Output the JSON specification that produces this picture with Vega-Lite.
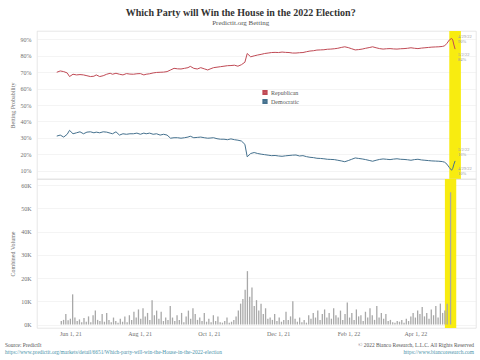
{
  "$schema": "https://vega.github.io/schema/vega-lite/v6.json",
  "background": "white",
  "padding": {"left": 5, "top": 7, "right": 4, "bottom": 0},
  "spacing": 0,
  "bounds": "flush",
  "resolve": {"scale": {"color": "independent"}, "legend": {"color": "independent"}},
  "title": {
    "text": "Which Party will Win the House in the 2022 Election?",
    "subtitle": "Predictit.org Betting",
    "font": "Liberation Serif",
    "fontSize": 10,
    "fontWeight": "bold",
    "color": "#333333",
    "subtitleFont": "Liberation Serif",
    "subtitleFontSize": 7,
    "subtitleColor": "#555555",
    "subtitlePadding": 1,
    "offset": 5,
    "anchor": "middle"
  },
  "config": {
    "font": "Liberation Serif",
    "view": {"stroke": "#dddddd", "strokeWidth": 0.7},
    "axis": {
      "labelFont": "Liberation Serif",
      "titleFont": "Liberation Serif",
      "labelFontSize": 6,
      "titleFontSize": 6,
      "labelColor": "#707070",
      "titleColor": "#707070",
      "titleFontWeight": "normal",
      "domain": false,
      "ticks": false,
      "tickSize": 0,
      "labelOverlap": false,
      "gridColor": "#ececec",
      "gridWidth": 0.6
    }
  },
  "datasets": {
    "band": [{"s": "2022-04-27", "e": "2022-05-07"}],
    "labs": [
      {"d": "2022-04-29", "p": 90, "lab": "4/29/22\n90%", "k": "rp"},
      {"d": "2022-05-02", "p": 84, "lab": "5/2/22\n84%", "k": "rl"},
      {"d": "2022-05-02", "p": 16, "lab": "5/2/22\n16%", "k": "bl"},
      {"d": "2022-04-29", "p": 10, "lab": "4/29/22\n10%", "k": "bp"}
    ],
    "foot": [
      {"side": "L", "row": 1, "t": "Source: PredictIt"},
      {"side": "L", "row": 2, "t": "https://www.predictit.org/markets/detail/6651/Which-party-will-win-the-House-in-the-2022-election"},
      {"side": "R", "row": 1, "t": "© 2022 Bianco Research, L.L.C. All Rights Reserved"},
      {"side": "R", "row": 2, "t": "https://www.biancoresearch.com"}
    ],
    "prob": [
      {"d": "2021-05-24", "Republican": 69.9, "Democratic": 31.1},
      {"d": "2021-05-27", "Republican": 70.7, "Democratic": 31.7},
      {"d": "2021-05-30", "Republican": 70.3, "Democratic": 30.5},
      {"d": "2021-06-02", "Republican": 69.5, "Democratic": 32.2},
      {"d": "2021-06-04", "Republican": 67.3, "Democratic": 34.6},
      {"d": "2021-06-07", "Republican": 68.7, "Democratic": 32.5},
      {"d": "2021-06-10", "Republican": 68.3, "Democratic": 33.1},
      {"d": "2021-06-13", "Republican": 68.5, "Democratic": 33.7},
      {"d": "2021-06-16", "Republican": 68.3, "Democratic": 32.5},
      {"d": "2021-06-19", "Republican": 67.8, "Democratic": 33.5},
      {"d": "2021-06-22", "Republican": 67.3, "Democratic": 33.7},
      {"d": "2021-06-25", "Republican": 67.5, "Democratic": 33.1},
      {"d": "2021-06-27", "Republican": 68.3, "Democratic": 33.5},
      {"d": "2021-06-30", "Republican": 67.3, "Democratic": 33.1},
      {"d": "2021-07-03", "Republican": 67.8, "Democratic": 33.7},
      {"d": "2021-07-06", "Republican": 68.7, "Democratic": 33.5},
      {"d": "2021-07-09", "Republican": 69.3, "Democratic": 32.9},
      {"d": "2021-07-11", "Republican": 68.7, "Democratic": 32.5},
      {"d": "2021-07-14", "Republican": 69.3, "Democratic": 33.7},
      {"d": "2021-07-17", "Republican": 68.7, "Democratic": 31.7},
      {"d": "2021-07-20", "Republican": 68.3, "Democratic": 32.5},
      {"d": "2021-07-23", "Republican": 69.1, "Democratic": 32.2},
      {"d": "2021-07-26", "Republican": 68.8, "Democratic": 32.5},
      {"d": "2021-07-29", "Republican": 68.7, "Democratic": 32.5},
      {"d": "2021-08-01", "Republican": 69.0, "Democratic": 32.9},
      {"d": "2021-08-04", "Republican": 69.1, "Democratic": 32.2},
      {"d": "2021-08-07", "Republican": 68.3, "Democratic": 32.9},
      {"d": "2021-08-09", "Republican": 68.7, "Democratic": 32.5},
      {"d": "2021-08-12", "Republican": 69.0, "Democratic": 32.9},
      {"d": "2021-08-15", "Republican": 69.5, "Democratic": 32.2},
      {"d": "2021-08-18", "Republican": 69.8, "Democratic": 32.5},
      {"d": "2021-08-21", "Republican": 69.9, "Democratic": 31.7},
      {"d": "2021-08-24", "Republican": 70.0, "Democratic": 32.2},
      {"d": "2021-08-27", "Republican": 70.3, "Democratic": 31.7},
      {"d": "2021-08-30", "Republican": 71.3, "Democratic": 29.8},
      {"d": "2021-09-02", "Republican": 72.3, "Democratic": 30.1},
      {"d": "2021-09-05", "Republican": 72.0, "Democratic": 30.1},
      {"d": "2021-09-08", "Republican": 71.9, "Democratic": 29.8},
      {"d": "2021-09-11", "Republican": 72.3, "Democratic": 30.1},
      {"d": "2021-09-14", "Republican": 72.7, "Democratic": 30.5},
      {"d": "2021-09-16", "Republican": 73.5, "Democratic": 31.0},
      {"d": "2021-09-19", "Republican": 72.3, "Democratic": 30.1},
      {"d": "2021-09-22", "Republican": 71.9, "Democratic": 30.3},
      {"d": "2021-09-25", "Republican": 72.7, "Democratic": 30.5},
      {"d": "2021-09-28", "Republican": 72.0, "Democratic": 30.1},
      {"d": "2021-10-01", "Republican": 71.3, "Democratic": 29.8},
      {"d": "2021-10-03", "Republican": 71.9, "Democratic": 29.9},
      {"d": "2021-10-06", "Republican": 72.7, "Democratic": 30.1},
      {"d": "2021-10-09", "Republican": 73.0, "Democratic": 29.5},
      {"d": "2021-10-12", "Republican": 73.3, "Democratic": 29.2},
      {"d": "2021-10-15", "Republican": 73.6, "Democratic": 29.2},
      {"d": "2021-10-18", "Republican": 73.9, "Democratic": 28.9},
      {"d": "2021-10-21", "Republican": 74.0, "Democratic": 29.4},
      {"d": "2021-10-24", "Republican": 74.2, "Democratic": 28.9},
      {"d": "2021-10-27", "Republican": 73.6, "Democratic": 28.6},
      {"d": "2021-10-30", "Republican": 74.5, "Democratic": 28.1},
      {"d": "2021-11-02", "Republican": 76.0, "Democratic": 26.1},
      {"d": "2021-11-04", "Republican": 81.3, "Democratic": 18.5},
      {"d": "2021-11-07", "Republican": 79.3, "Democratic": 20.5},
      {"d": "2021-11-10", "Republican": 79.9, "Democratic": 21.1},
      {"d": "2021-11-13", "Republican": 80.4, "Democratic": 20.5},
      {"d": "2021-11-16", "Republican": 80.8, "Democratic": 20.1},
      {"d": "2021-11-19", "Republican": 81.3, "Democratic": 19.8},
      {"d": "2021-11-22", "Republican": 81.6, "Democratic": 19.5},
      {"d": "2021-11-25", "Republican": 81.9, "Democratic": 19.2},
      {"d": "2021-11-28", "Republican": 82.0, "Democratic": 19.3},
      {"d": "2021-12-01", "Republican": 81.9, "Democratic": 19.0},
      {"d": "2021-12-04", "Republican": 82.2, "Democratic": 18.8},
      {"d": "2021-12-07", "Republican": 82.0, "Democratic": 19.1},
      {"d": "2021-12-10", "Republican": 81.9, "Democratic": 19.3},
      {"d": "2021-12-13", "Republican": 81.6, "Democratic": 19.5},
      {"d": "2021-12-16", "Republican": 81.6, "Democratic": 19.6},
      {"d": "2021-12-19", "Republican": 81.8, "Democratic": 19.0},
      {"d": "2021-12-22", "Republican": 81.9, "Democratic": 19.2},
      {"d": "2021-12-25", "Republican": 82.4, "Democratic": 18.6},
      {"d": "2021-12-28", "Republican": 82.8, "Democratic": 18.2},
      {"d": "2021-12-31", "Republican": 83.0, "Democratic": 18.0},
      {"d": "2022-01-03", "Republican": 83.4, "Democratic": 17.6},
      {"d": "2022-01-06", "Republican": 83.5, "Democratic": 17.5},
      {"d": "2022-01-09", "Republican": 83.6, "Democratic": 17.3},
      {"d": "2022-01-12", "Republican": 83.9, "Democratic": 17.0},
      {"d": "2022-01-15", "Republican": 84.0, "Democratic": 16.9},
      {"d": "2022-01-18", "Republican": 84.2, "Democratic": 16.8},
      {"d": "2022-01-21", "Republican": 84.5, "Democratic": 16.4},
      {"d": "2022-01-24", "Republican": 85.0, "Democratic": 16.0},
      {"d": "2022-01-27", "Republican": 85.4, "Democratic": 15.5},
      {"d": "2022-01-30", "Republican": 84.9, "Democratic": 16.2},
      {"d": "2022-02-02", "Republican": 84.2, "Democratic": 17.0},
      {"d": "2022-02-05", "Republican": 83.5, "Democratic": 17.8},
      {"d": "2022-02-08", "Republican": 83.7, "Democratic": 17.5},
      {"d": "2022-02-11", "Republican": 84.0, "Democratic": 17.2},
      {"d": "2022-02-14", "Republican": 84.5, "Democratic": 16.8},
      {"d": "2022-02-17", "Republican": 84.9, "Democratic": 16.3},
      {"d": "2022-02-20", "Republican": 85.4, "Democratic": 15.8},
      {"d": "2022-02-23", "Republican": 84.8, "Democratic": 16.4},
      {"d": "2022-02-26", "Republican": 84.3, "Democratic": 16.9},
      {"d": "2022-03-01", "Republican": 84.0, "Democratic": 17.2},
      {"d": "2022-03-04", "Republican": 84.2, "Democratic": 17.0},
      {"d": "2022-03-07", "Republican": 84.3, "Democratic": 16.8},
      {"d": "2022-03-10", "Republican": 84.1, "Democratic": 17.1},
      {"d": "2022-03-13", "Republican": 84.0, "Democratic": 17.3},
      {"d": "2022-03-16", "Republican": 84.2, "Democratic": 17.0},
      {"d": "2022-03-19", "Republican": 84.3, "Democratic": 16.9},
      {"d": "2022-03-22", "Republican": 84.5, "Democratic": 16.7},
      {"d": "2022-03-25", "Republican": 84.8, "Democratic": 16.4},
      {"d": "2022-03-28", "Republican": 84.5, "Democratic": 16.8},
      {"d": "2022-03-31", "Republican": 84.3, "Democratic": 17.0},
      {"d": "2022-04-03", "Republican": 84.6, "Democratic": 16.6},
      {"d": "2022-04-06", "Republican": 84.8, "Democratic": 16.4},
      {"d": "2022-04-09", "Republican": 85.0, "Democratic": 16.2},
      {"d": "2022-04-12", "Republican": 85.2, "Democratic": 16.0},
      {"d": "2022-04-15", "Republican": 85.3, "Democratic": 15.9},
      {"d": "2022-04-18", "Republican": 85.4, "Democratic": 15.8},
      {"d": "2022-04-21", "Republican": 85.6, "Democratic": 15.6},
      {"d": "2022-04-23", "Republican": 86.0, "Democratic": 15.2},
      {"d": "2022-04-25", "Republican": 87.5, "Democratic": 14.0},
      {"d": "2022-04-27", "Republican": 89.5, "Democratic": 12.0},
      {"d": "2022-04-29", "Republican": 90.5, "Democratic": 10.3},
      {"d": "2022-04-30", "Republican": 89.5, "Democratic": 11.5},
      {"d": "2022-05-01", "Republican": 86.5, "Democratic": 14.0},
      {"d": "2022-05-02", "Republican": 84.0, "Democratic": 16.0}
    ],
    "vol": [
      {"d": "2021-05-24", "v": 1500}, {"d": "2021-05-26", "v": 2000}, {"d": "2021-05-28", "v": 4500}, {"d": "2021-05-30", "v": 1800},
      {"d": "2021-06-01", "v": 2500}, {"d": "2021-06-03", "v": 13000}, {"d": "2021-06-05", "v": 3000}, {"d": "2021-06-07", "v": 1500},
      {"d": "2021-06-09", "v": 2200}, {"d": "2021-06-11", "v": 1000}, {"d": "2021-06-13", "v": 2800}, {"d": "2021-06-15", "v": 1200},
      {"d": "2021-06-17", "v": 3500}, {"d": "2021-06-19", "v": 1000}, {"d": "2021-06-21", "v": 4000}, {"d": "2021-06-23", "v": 6000},
      {"d": "2021-06-25", "v": 2000}, {"d": "2021-06-27", "v": 1500}, {"d": "2021-06-29", "v": 4500}, {"d": "2021-07-01", "v": 1200},
      {"d": "2021-07-03", "v": 5000}, {"d": "2021-07-05", "v": 2000}, {"d": "2021-07-07", "v": 1000}, {"d": "2021-07-09", "v": 3000},
      {"d": "2021-07-11", "v": 1500}, {"d": "2021-07-13", "v": 800}, {"d": "2021-07-15", "v": 2500}, {"d": "2021-07-17", "v": 1200},
      {"d": "2021-07-19", "v": 3500}, {"d": "2021-07-21", "v": 1000}, {"d": "2021-07-23", "v": 4000}, {"d": "2021-07-25", "v": 2000},
      {"d": "2021-07-27", "v": 5500}, {"d": "2021-07-29", "v": 3000}, {"d": "2021-07-31", "v": 6500}, {"d": "2021-08-02", "v": 2500},
      {"d": "2021-08-04", "v": 7000}, {"d": "2021-08-06", "v": 3500}, {"d": "2021-08-08", "v": 5000}, {"d": "2021-08-10", "v": 2000},
      {"d": "2021-08-12", "v": 10500}, {"d": "2021-08-14", "v": 4000}, {"d": "2021-08-16", "v": 6000}, {"d": "2021-08-18", "v": 2500},
      {"d": "2021-08-20", "v": 5500}, {"d": "2021-08-22", "v": 1500}, {"d": "2021-08-24", "v": 3000}, {"d": "2021-08-26", "v": 2000},
      {"d": "2021-08-28", "v": 8000}, {"d": "2021-08-30", "v": 3000}, {"d": "2021-09-01", "v": 1500}, {"d": "2021-09-03", "v": 4000},
      {"d": "2021-09-05", "v": 2000}, {"d": "2021-09-07", "v": 5000}, {"d": "2021-09-09", "v": 1000}, {"d": "2021-09-11", "v": 3500},
      {"d": "2021-09-13", "v": 6000}, {"d": "2021-09-15", "v": 2500}, {"d": "2021-09-17", "v": 7000}, {"d": "2021-09-19", "v": 4500},
      {"d": "2021-09-21", "v": 2000}, {"d": "2021-09-23", "v": 3000}, {"d": "2021-09-25", "v": 1500}, {"d": "2021-09-27", "v": 5000},
      {"d": "2021-09-29", "v": 1200}, {"d": "2021-10-01", "v": 2500}, {"d": "2021-10-03", "v": 1000}, {"d": "2021-10-05", "v": 4000},
      {"d": "2021-10-07", "v": 1500}, {"d": "2021-10-09", "v": 3500}, {"d": "2021-10-11", "v": 1000}, {"d": "2021-10-13", "v": 800},
      {"d": "2021-10-15", "v": 1500}, {"d": "2021-10-17", "v": 3000}, {"d": "2021-10-19", "v": 800}, {"d": "2021-10-21", "v": 1200},
      {"d": "2021-10-23", "v": 2000}, {"d": "2021-10-25", "v": 3500}, {"d": "2021-10-27", "v": 6000}, {"d": "2021-10-29", "v": 9000},
      {"d": "2021-10-31", "v": 11000}, {"d": "2021-11-02", "v": 15000}, {"d": "2021-11-04", "v": 23000}, {"d": "2021-11-06", "v": 12000},
      {"d": "2021-11-08", "v": 16000}, {"d": "2021-11-10", "v": 8000}, {"d": "2021-11-12", "v": 10500}, {"d": "2021-11-14", "v": 6000},
      {"d": "2021-11-16", "v": 9000}, {"d": "2021-11-18", "v": 4500}, {"d": "2021-11-20", "v": 7000}, {"d": "2021-11-22", "v": 2500},
      {"d": "2021-11-24", "v": 3000}, {"d": "2021-11-26", "v": 2000}, {"d": "2021-11-28", "v": 4500}, {"d": "2021-11-30", "v": 1500},
      {"d": "2021-12-02", "v": 3000}, {"d": "2021-12-04", "v": 1200}, {"d": "2021-12-06", "v": 2000}, {"d": "2021-12-08", "v": 5500},
      {"d": "2021-12-10", "v": 2000}, {"d": "2021-12-12", "v": 3500}, {"d": "2021-12-14", "v": 10000}, {"d": "2021-12-16", "v": 2500},
      {"d": "2021-12-18", "v": 1200}, {"d": "2021-12-20", "v": 3000}, {"d": "2021-12-22", "v": 1000}, {"d": "2021-12-24", "v": 2000},
      {"d": "2021-12-26", "v": 800}, {"d": "2021-12-28", "v": 4000}, {"d": "2021-12-30", "v": 2500}, {"d": "2022-01-01", "v": 5000},
      {"d": "2022-01-03", "v": 3000}, {"d": "2022-01-05", "v": 6000}, {"d": "2022-01-07", "v": 2000}, {"d": "2022-01-09", "v": 4500},
      {"d": "2022-01-11", "v": 6500}, {"d": "2022-01-13", "v": 3000}, {"d": "2022-01-15", "v": 5000}, {"d": "2022-01-17", "v": 2500},
      {"d": "2022-01-19", "v": 7000}, {"d": "2022-01-21", "v": 4000}, {"d": "2022-01-23", "v": 3000}, {"d": "2022-01-25", "v": 6000},
      {"d": "2022-01-27", "v": 2000}, {"d": "2022-01-29", "v": 4500}, {"d": "2022-01-31", "v": 9500}, {"d": "2022-02-02", "v": 3000},
      {"d": "2022-02-04", "v": 5000}, {"d": "2022-02-06", "v": 2000}, {"d": "2022-02-08", "v": 6500}, {"d": "2022-02-10", "v": 3500},
      {"d": "2022-02-12", "v": 4000}, {"d": "2022-02-14", "v": 1500}, {"d": "2022-02-16", "v": 5500}, {"d": "2022-02-18", "v": 3000},
      {"d": "2022-02-20", "v": 7000}, {"d": "2022-02-22", "v": 4000}, {"d": "2022-02-24", "v": 2000}, {"d": "2022-02-26", "v": 8000},
      {"d": "2022-02-28", "v": 3000}, {"d": "2022-03-02", "v": 5000}, {"d": "2022-03-04", "v": 2500}, {"d": "2022-03-06", "v": 4500},
      {"d": "2022-03-08", "v": 1500}, {"d": "2022-03-10", "v": 2000}, {"d": "2022-03-12", "v": 1000}, {"d": "2022-03-14", "v": 800},
      {"d": "2022-03-16", "v": 1500}, {"d": "2022-03-18", "v": 1200}, {"d": "2022-03-20", "v": 2000}, {"d": "2022-03-22", "v": 800},
      {"d": "2022-03-24", "v": 2500}, {"d": "2022-03-26", "v": 1500}, {"d": "2022-03-28", "v": 3500}, {"d": "2022-03-30", "v": 5000},
      {"d": "2022-04-01", "v": 3000}, {"d": "2022-04-03", "v": 6000}, {"d": "2022-04-05", "v": 4500}, {"d": "2022-04-07", "v": 7500},
      {"d": "2022-04-09", "v": 3500}, {"d": "2022-04-11", "v": 5000}, {"d": "2022-04-13", "v": 2500}, {"d": "2022-04-15", "v": 6500},
      {"d": "2022-04-17", "v": 4000}, {"d": "2022-04-19", "v": 8000}, {"d": "2022-04-21", "v": 3000}, {"d": "2022-04-23", "v": 9000},
      {"d": "2022-04-25", "v": 5000}, {"d": "2022-04-27", "v": 6000}, {"d": "2022-04-29", "v": 9000}, {"d": "2022-05-02", "v": 57000}
    ]
  },
  "vconcat": [
    {
      "width": 439,
      "height": 148,
      "encoding": {
        "x": {"field": "d", "type": "temporal", "axis": null,
              "scale": {"domain": [{"year": 2021, "month": 5, "date": 7}, {"year": 2022, "month": 5, "date": 20}]}},
        "y": {"field": "p", "type": "quantitative",
              "scale": {"domain": [5, 95], "nice": false, "zero": false},
              "axis": {"values": [10, 20, 30, 40, 50, 60, 70, 80, 90], "labelExpr": "datum.value + '%'",
                       "title": "Betting Probability", "labelPadding": 6, "titlePadding": 5, "grid": true, "labelOverlap": false}}
      },
      "layer": [
        {
          "data": {"name": "band"},
          "mark": {"type": "rect", "color": "#f8ec10"},
          "encoding": {
            "x": {"field": "s", "type": "temporal", "axis": null,
                  "scale": {"domain": [{"year": 2021, "month": 5, "date": 7}, {"year": 2022, "month": 5, "date": 20}]}},
            "x2": {"field": "e"},
            "y": null
          }
        },
        {
          "data": {"name": "prob"},
          "transform": [{"fold": ["Republican", "Democratic"], "as": ["party", "p"]}],
          "mark": {"type": "line", "strokeWidth": 1},
          "encoding": {
            "color": {"field": "party", "type": "nominal",
                      "scale": {"domain": ["Republican", "Democratic"], "range": ["#c04a55", "#45718e"]},
                      "legend": {"orient": "none", "legendX": 225, "legendY": 57, "title": null,
                                 "symbolType": "square", "symbolSize": 8, "symbolStrokeWidth": 2.4,
                                 "labelFontSize": 6, "labelFont": "Liberation Serif", "labelColor": "#555555",
                                 "rowPadding": 0, "clipHeight": 9, "labelOffset": 3}}
          }
        },
        {
          "data": {"name": "labs"},
          "transform": [{"filter": "datum.k === 'rp'"}],
          "mark": {"type": "text", "align": "left", "baseline": "middle", "dx": 6.5, "dy": -2, "fontSize": 4.5, "lineHeight": 5, "lineBreak": "\n", "color": "#999999"},
          "encoding": {"text": {"field": "lab"}}
        },
        {
          "data": {"name": "labs"},
          "transform": [{"filter": "datum.k === 'rl'"}],
          "mark": {"type": "text", "align": "left", "baseline": "middle", "dx": 3, "dy": 6, "fontSize": 4.5, "lineHeight": 5, "lineBreak": "\n", "color": "#999999"},
          "encoding": {"text": {"field": "lab"}}
        },
        {
          "data": {"name": "labs"},
          "transform": [{"filter": "datum.k === 'bl'"}],
          "mark": {"type": "text", "align": "left", "baseline": "middle", "dx": 3, "dy": -11, "fontSize": 4.5, "lineHeight": 5, "lineBreak": "\n", "color": "#999999"},
          "encoding": {"text": {"field": "lab"}}
        },
        {
          "data": {"name": "labs"},
          "transform": [{"filter": "datum.k === 'bp'"}],
          "mark": {"type": "text", "align": "left", "baseline": "middle", "dx": 6.5, "dy": -2, "fontSize": 4.5, "lineHeight": 5, "lineBreak": "\n", "color": "#999999"},
          "encoding": {"text": {"field": "lab"}}
        }
      ]
    },
    {
      "width": 439,
      "height": 149,
      "layer": [
        {
          "data": {"name": "band"},
          "mark": {"type": "rect", "color": "#f8ec10"},
          "encoding": {
            "x": {"field": "s", "type": "temporal",
                  "scale": {"domain": [{"year": 2021, "month": 5, "date": 7}, {"year": 2022, "month": 5, "date": 20}]},
                  "axis": {"values": [{"year": 2021, "month": 6, "date": 1}, {"year": 2021, "month": 8, "date": 1}, {"year": 2021, "month": 10, "date": 1}, {"year": 2021, "month": 12, "date": 1}, {"year": 2022, "month": 2, "date": 1}, {"year": 2022, "month": 4, "date": 1}],
                           "format": "%b %-d, %y", "title": null, "labelPadding": 2, "grid": false}},
            "x2": {"field": "e"}
          }
        },
        {
          "data": {"name": "vol"},
          "mark": {"type": "bar", "color": "#a8a8a8", "width": 1.3},
          "encoding": {
            "x": {"field": "d", "type": "temporal"},
            "y": {"field": "v", "type": "quantitative",
                  "scale": {"domain": [-1500, 62700], "nice": false},
                  "axis": {"values": [0, 10000, 20000, 30000, 40000, 50000, 60000], "labelExpr": "(datum.value / 1000) + 'K'",
                           "title": "Combined Volume", "labelPadding": 6, "titlePadding": 5, "grid": true}}
          }
        }
      ]
    },
    {
      "width": 439,
      "height": 28,
      "view": {"stroke": null},
      "layer": [
        {
          "data": {"name": "foot"},
          "transform": [{"filter": "datum.side === 'L'"}],
          "mark": {"type": "text", "align": "left", "baseline": "middle", "fontSize": 5.4},
          "encoding": {
            "x": {"field": "side", "type": "nominal", "axis": null, "scale": {"type": "point", "domain": ["L", "R"], "range": [-32, 437], "padding": 0}},
            "y": {"field": "row", "type": "ordinal", "axis": null, "scale": {"type": "point", "domain": [1, 2], "range": [17, 24], "padding": 0}},
            "color": {"field": "row", "type": "ordinal", "legend": null, "scale": {"domain": [1, 2], "range": ["#555555", "#4a93aa"]}},
            "text": {"field": "t"}
          }
        },
        {
          "data": {"name": "foot"},
          "transform": [{"filter": "datum.side === 'R'"}],
          "mark": {"type": "text", "align": "right", "baseline": "middle", "fontSize": 5.4},
          "encoding": {
            "x": {"field": "side", "type": "nominal", "axis": null},
            "y": {"field": "row", "type": "ordinal", "axis": null},
            "color": {"field": "row", "type": "ordinal", "legend": null},
            "text": {"field": "t"}
          }
        }
      ]
    }
  ]
}
